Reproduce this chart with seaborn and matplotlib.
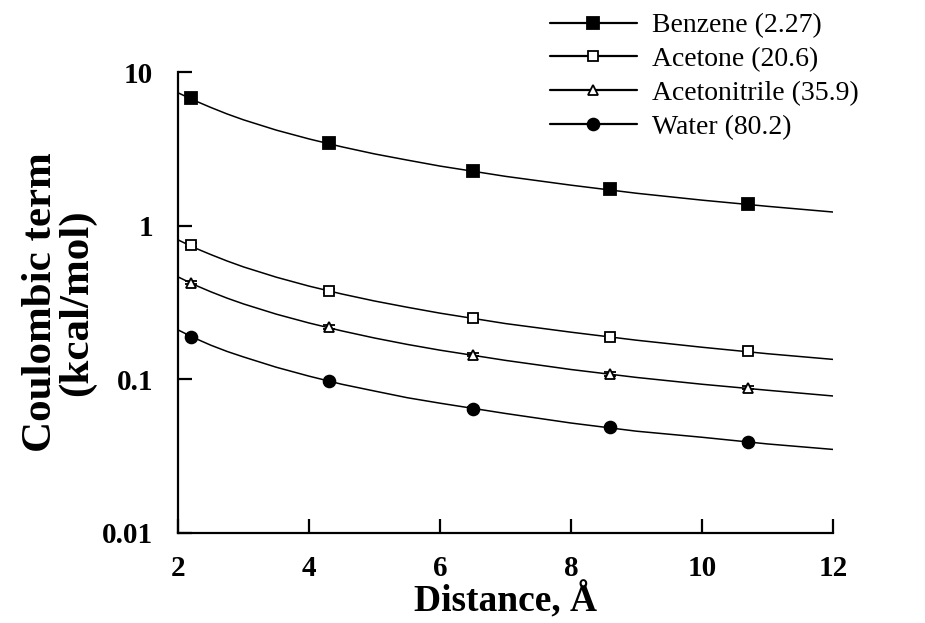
import numpy as np
import pandas as pd
import matplotlib
matplotlib.use("Agg")
import matplotlib.pyplot as plt
from matplotlib.lines import Line2D
from matplotlib.ticker import FixedLocator, FixedFormatter, NullLocator
import seaborn as sns

# ---- data ----
solvents = ["Benzene (2.27)", "Acetone (20.6)", "Acetonitrile (35.9)", "Water (80.2)"]
marker_x = [2.2, 4.3, 6.5, 8.6, 10.7]
benzene_pts = [6.8, 3.45, 2.28, 1.74, 1.39]
acetone_pts = [0.75, 0.378, 0.25, 0.19, 0.154]
acetonitrile_pts = [0.426, 0.22, 0.145, 0.109, 0.088]
water_pts = [0.19, 0.097, 0.064, 0.049, 0.039]
benzene_err = [0.25, 0.12, 0.15, 0.08, 0.08]
acetone_err = [0.02, 0.012, 0.014, 0.006, 0.005]
acetonitrile_err = [0.01, 0.006, 0.004, 0.003, 0.002]
water_err = [0.004, 0.002, 0.002, 0.001, 0.001]

curve_x = [2, 2.25, 2.5, 2.75, 3, 3.5, 4, 4.5, 5, 5.5, 6, 7, 8, 9, 10, 11, 12]
benzene_curve = [7.35, 6.55, 5.9, 5.35, 4.9, 4.2, 3.68, 3.27, 2.94, 2.68, 2.45, 2.1, 1.84, 1.63, 1.47, 1.34, 1.23]
acetone_curve = [0.81, 0.72, 0.65, 0.59, 0.54, 0.463, 0.405, 0.36, 0.324, 0.295, 0.27, 0.231, 0.203, 0.18, 0.162, 0.147, 0.135]
acetonitrile_curve = [0.465, 0.413, 0.372, 0.338, 0.31, 0.266, 0.233, 0.207, 0.186, 0.169, 0.155, 0.133, 0.116, 0.103, 0.093, 0.085, 0.078]
water_curve = [0.21, 0.186, 0.167, 0.152, 0.14, 0.12, 0.105, 0.093, 0.084, 0.076, 0.07, 0.06, 0.052, 0.046, 0.042, 0.038, 0.035]

y_ticks = [0.01, 0.1, 1, 10]
y_ticklabels = ["0.01", "0.1", "1", "10"]
x_ticks = [2, 4, 6, 8, 10, 12]

sns.set_theme(style="ticks")
plt.rcParams["font.family"] = ["Liberation Serif", "DejaVu Serif"]
plt.rcParams["text.color"] = "black"
plt.rcParams["axes.labelcolor"] = "black"

fig = plt.figure(figsize=(9.25, 6.23), dpi=100)
ax = fig.add_axes([0.1925, 0.1445, 0.708, 0.7395])

pts = [benzene_pts, acetone_pts, acetonitrile_pts, water_pts]
errs = [benzene_err, acetone_err, acetonitrile_err, water_err]
curves = [benzene_curve, acetone_curve, acetonitrile_curve, water_curve]
markers = ["s", "s", "^", "o"]
faces = ["black", "white", "white", "black"]
msizes = [8.5, 7.5, 7, 8.5]

curve_df = pd.concat([pd.DataFrame({"x": curve_x, "y": c, "s": s}) for c, s in zip(curves, solvents)])
sns.lineplot(data=curve_df, x="x", y="y", hue="s", palette=["black"] * 4,
             legend=False, linewidth=1.1, ax=ax)

handles = []
for p, e, m, f, ms, s in zip(pts, errs, markers, faces, msizes, solvents):
    ax.errorbar(marker_x, p, yerr=e, fmt=m, mfc=f, mec="black", mew=1.3, ms=ms,
                ecolor="black", elinewidth=1.2, capsize=4, zorder=5)
    handles.append(Line2D([0], [0], color="black", lw=1.6, marker=m, mfc=f,
                          mec="black", mew=1.3, ms=ms, label=s))

ax.set_yscale("log")
ax.set_xlim(2, 12)
ax.set_ylim(0.01, 10)
ax.yaxis.set_major_locator(FixedLocator(y_ticks))
ax.yaxis.set_major_formatter(FixedFormatter(y_ticklabels))
ax.yaxis.set_minor_locator(NullLocator())
ax.set_xticks(x_ticks)
ax.tick_params(axis="both", direction="in", length=10, width=1.6, labelsize=21,
               colors="black", labelcolor="black")
ax.tick_params(axis="y", pad=18)
ax.tick_params(axis="x", pad=16)
for lab in ax.get_xticklabels() + ax.get_yticklabels():
    lab.set_fontweight("bold")
sns.despine(ax=ax)
for sp in ["left", "bottom"]:
    ax.spines[sp].set_linewidth(1.6)
    ax.spines[sp].set_color("black")

ax.set_xlabel("Distance, Å", fontsize=27, fontweight="bold", labelpad=0)
ax.set_ylabel("Coulombic term\n(kcal/mol)", fontsize=31, fontweight="bold",
              labelpad=4, linespacing=0.92)

fig.legend(handles=handles, loc="upper left", bbox_to_anchor=(0.577, 1.006),
           frameon=False, fontsize=20, handlelength=3.1, labelspacing=0.30,
           handletextpad=0.55, borderpad=0.1)

fig.savefig("out.png", dpi=100)
